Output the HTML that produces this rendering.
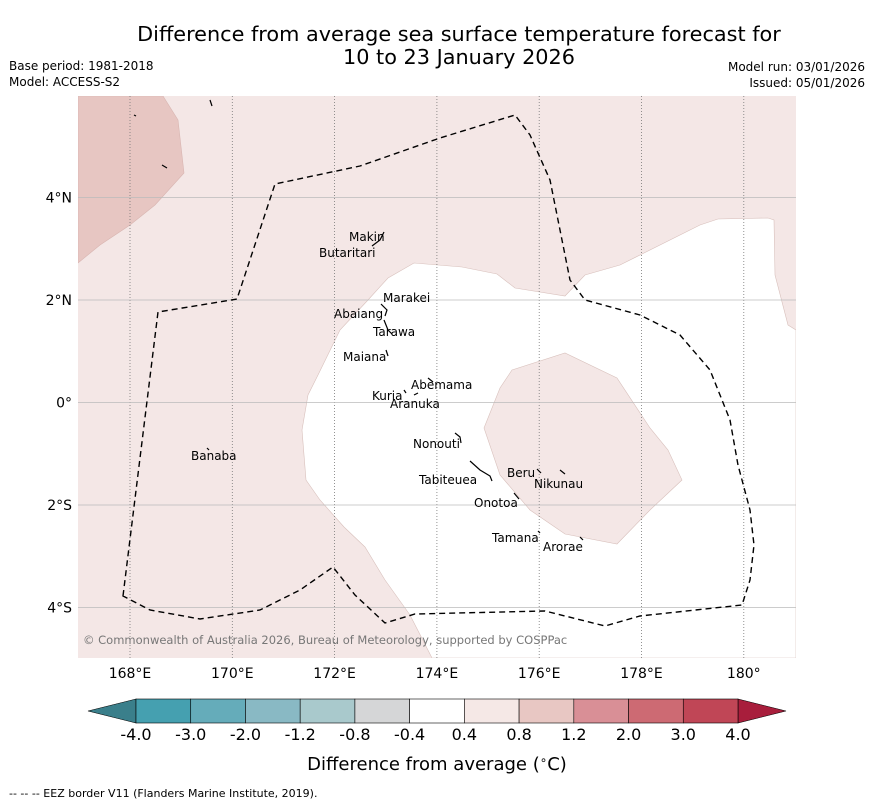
<!DOCTYPE html>
<html><head><meta charset="utf-8"><style>
body{margin:0;background:#fff;}
svg{display:block;font-family:"DejaVu Sans","Liberation Sans",sans-serif;}
</style></head><body>
<svg width="873" height="804" viewBox="0 0 873 804">
<text x="459" y="41" font-size="20.8" text-anchor="middle">Difference from average sea surface temperature forecast for</text>
<text x="459" y="64" font-size="20.8" text-anchor="middle">10 to 23 January 2026</text>
<text x="9" y="70" font-size="12">Base period: 1981-2018</text>
<text x="9" y="86" font-size="12">Model: ACCESS-S2</text>
<text x="865" y="71" font-size="12" text-anchor="end">Model run: 03/01/2026</text>
<text x="865" y="87" font-size="12" text-anchor="end">Issued: 05/01/2026</text>
<defs><clipPath id="mc"><rect x="78" y="96" width="718" height="562"/></clipPath></defs>
<g clip-path="url(#mc)">
<rect x="78" y="96" width="718" height="562" fill="#f4e7e6"/>
<path d="M78,96 L163,96 L178,120 L184,173 L155,205 L130,225 L100,245 L78,263Z" fill="#e7c6c2" stroke="#d8b5b1" stroke-width="0.6"/>
<path d="M796,330 L788,325 L775,275 L774,220 L768,218 L718,219 L700,225 L620,265 L585,275 L565,296 L515,288 L497,274 L462,267 L414,263 L388,278 L368,300 L340,330 L318,375 L308,395 L302,430 L306,480 L320,500 L344,527 L365,547 L385,580 L410,615 L432,658 L796,658Z" fill="#ffffff" stroke="#d8c0bc" stroke-width="0.6"/>
<path d="M484,428 L500,388 L512,370 L565,353 L617,378 L650,428 L668,450 L682,480 L650,510 L617,544 L565,534 L530,510 L500,475Z" fill="#f4e7e6" stroke="#d8c0bc" stroke-width="0.6"/>
<g id="grid"></g>
<path d="M123,596 L158,312 L237,299 L275,184 L360,166 L440,138 L515,115 L530,135 L550,180 L570,280 L585,300 L640,315 L680,335 L710,370 L730,420 L738,465 L750,510 L754,545 L750,580 L742,605 L640,616 L605,626 L545,611 L415,614 L385,623 L355,595 L333,567 L300,590 L260,610 L200,619 L150,610 Z" fill="none" stroke="#000" stroke-width="1.4" stroke-dasharray="6,4"/>
<g font-size="12" fill="#000">
<text x="349" y="241">Makin</text><text x="319" y="257">Butaritari</text>
<text x="383" y="302">Marakei</text><text x="334" y="318">Abaiang</text>
<text x="373" y="336">Tarawa</text><text x="343" y="361">Maiana</text>
<text x="411" y="389">Abemama</text><text x="372" y="400">Kuria</text>
<text x="390" y="408">Aranuka</text><text x="413" y="448">Nonouti</text>
<text x="419" y="484">Tabiteuea</text><text x="507" y="477">Beru</text>
<text x="534" y="488">Nikunau</text><text x="474" y="507">Onotoa</text>
<text x="492" y="542">Tamana</text><text x="543" y="551">Arorae</text>
<text x="191" y="460">Banaba</text>
</g>
<g stroke="#000" stroke-width="1.2" fill="none">
<path d="M372,246 L380,240 L384,232"/><path d="M381,304 L387,310 L385,316"/><path d="M384,320 L388,330 L392,334"/>
<path d="M386,350 L388,356"/><path d="M428,378 L433,382"/><path d="M404,390 L406,393"/><path d="M414,395 L418,393"/>
<path d="M455,433 L460,437 L461,443"/><path d="M470,461 L480,470 L490,476 L492,481"/><path d="M537,469 L541,473"/>
<path d="M560,470 L565,474"/><path d="M514,493 L519,499"/><path d="M538,531 L540,533"/><path d="M580,537 L583,540"/>
<path d="M207,448 L209,450"/><path d="M134,115 L136,116"/><path d="M162,165 L167,168"/><path d="M210,100 L212,106"/>
</g>
<text x="83" y="644" font-size="11.5" fill="#777">© Commonwealth of Australia 2026, Bureau of Meteorology, supported by COSPPac</text>
</g>
<g id="axes"></g>
<g id="cbar"></g>
<text x="437" y="770" font-size="18" text-anchor="middle">Difference from average (<tspan font-size="12" dy="-6">∘</tspan><tspan dy="6">C)</tspan></text>
<text x="9" y="797" font-size="11">--  --  -- EEZ border V11 (Flanders Marine Institute, 2019).</text>
</svg>
<script>
const lonTicks=[168,170,172,174,176,178,180];
const lonLabels=["168°E","170°E","172°E","174°E","176°E","178°E","180°"];
const latTicks=[4,2,0,-2,-4];
const latLabels=["4°N","2°N","0°","2°S","4°S"];
const cbarLevels=["-4.0","-3.0","-2.0","-1.2","-0.8","-0.4","0.4","0.8","1.2","2.0","3.0","4.0"];
const cbarColors=["#45a0b0","#65acba","#89b9c4","#a9c9cc","#d5d6d7","#ffffff","#f5e8e6","#e8c7c3","#d98f96","#cd6a73","#c04656"];
const NS="http://www.w3.org/2000/svg";
const xLon=l=>130+(l-168)*51.15;
const yLat=l=>402.5-l*51.25;
function mk(t,a,p){const e=document.createElementNS(NS,t);for(const k in a)e.setAttribute(k,a[k]);p.appendChild(e);return e;}
const gridG=document.getElementById('grid'),axesG=document.getElementById('axes'),cbG=document.getElementById('cbar');
lonTicks.forEach((l,i)=>{const x=xLon(l);
const g=mk('line',{x1:x,x2:x,y1:96,y2:658,stroke:'#777','stroke-width':0.8,'stroke-dasharray':'1,2'},gridG);


const t=mk('text',{x:x,y:678,'font-size':14,'text-anchor':'middle'},axesG);t.textContent=lonLabels[i];

});
latTicks.forEach((l,i)=>{const y=yLat(l);
const g=mk('line',{x1:78,x2:796,y1:y,y2:y,stroke:'#bbb','stroke-width':0.8},gridG);


const t=mk('text',{x:72,y:y+5,'font-size':14,'text-anchor':'end'},axesG);t.textContent=latLabels[i];

});
const cx0=136,cx1=738,cTop=699,cH=24,cW=(cx1-cx0)/cbarColors.length;
const lt=mk('path',{d:`M${cx0},${cTop} L88,${cTop+cH/2} L${cx0},${cTop+cH}Z`,fill:'#3a7f8b',stroke:'#000','stroke-width':0.6},cbG);


const rt=mk('path',{d:`M${cx1},${cTop} L786,${cTop+cH/2} L${cx1},${cTop+cH}Z`,fill:'#a81e3c',stroke:'#000','stroke-width':0.6},cbG);


cbarColors.forEach((c,i)=>{const r=mk('rect',{x:cx0+i*cW,y:cTop,width:cW,height:cH,fill:c,stroke:'#000','stroke-width':0.6},cbG);

});
cbarLevels.forEach((s,i)=>{const t=mk('text',{x:cx0+i*cW,y:740,'font-size':16,'text-anchor':'middle'},cbG);t.textContent=s;

});
</script>
</body></html>
